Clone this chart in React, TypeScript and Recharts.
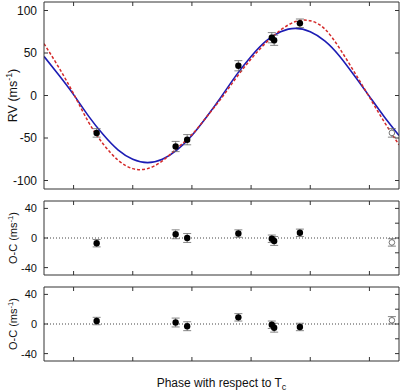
import React from 'react';
import { ComposedChart, Line, Scatter, XAxis, YAxis, ErrorBar, ReferenceLine } from 'recharts';

// Model curves (phase, RV in m/s)
const curvePhase = [-0.1, -0.05, 0, 0.05, 0.1, 0.15, 0.2, 0.25, 0.3, 0.35, 0.4, 0.45, 0.5, 0.55, 0.6, 0.65, 0.7, 0.75, 0.8, 0.85, 0.9, 0.95, 1.0, 1.05, 1.1];
const circularRV = [46, 24, 1, -24, -46, -64, -75, -79, -75, -64, -47, -25, -1, 24, 46, 64, 75, 79, 75, 64, 46, 23, -1, -25, -47];
const eccentricRV = [61, 33, 2, -31, -57, -76, -86, -86, -77, -62, -46, -25, -3, 21, 43, 62, 77, 87, 88, 78, 55, 27, -2, -31, -58];

// Observations
const obsPhase = [0.078, 0.345, 0.384, 0.557, 0.67, 0.678, 0.765];
const obsRV = [-44, -60, -52, 35, 68, 65, 85];
const obsErr = [5, 6, 6, 6, 6, 6, 5];
const ocCircular = [-7, 5, 0, 6, -1, -4, 7];
const ocEccentric = [4, 2, -3, 9, -1, -5, -4];
const ocErr = [5, 6, 6, 5, 5, 6, 5];

// Repeated (open) point
const repeatPhase = [1.076];
const repeatRV = [-44];
const repeatOcCircular = [-6];
const repeatOcEccentric = [5];
const repeatErr = [5];

// Ticks
const phaseTicks = [0, 0.2, 0.4, 0.6, 0.8, 1.0];
const rvTicks = [-100, -50, 0, 50, 100];
const ocTicks = [-40, -20, 0, 20, 40];

const curveRows = curvePhase.map((x, i) => ({ x, blue: circularRV[i], red: eccentricRV[i] }));
const mkRows = (xs: number[], ys: number[], es: number[]) => xs.map((x, i) => ({ x, y: ys[i], e: es[i] }));

const FONT = 'Liberation Sans, Arial, Helvetica, sans-serif';
const AX = '#333';

const filledDot = (p: any) => <circle cx={p.cx} cy={p.cy} r={3.2} fill="#000" />;
const openDot = (p: any) => <circle cx={p.cx} cy={p.cy} r={2.8} fill="#fff" stroke="#666" strokeWidth={0.9} />;

const yTitle = (main: string, size: number, bx: number) => (props: any) => {
  const vb = props.viewBox || { x: 0, y: 0, width: 44, height: 100 };
  const cx = vb.x + bx;
  const cy = vb.y + vb.height / 2;
  return (
    <text x={cx} y={cy} transform={`rotate(-90 ${cx} ${cy})`} textAnchor="middle" fontSize={size} fill="#111" fontFamily={FONT}>
      {main} (ms
      <tspan dy={-size * 0.4} fontSize={size * 0.7}>-1</tspan>
      <tspan dy={size * 0.4}>)</tspan>
    </text>
  );
};

const xTitle = (props: any) => {
  const vb = props.viewBox || { x: 44, y: 361, width: 355, height: 31 };
  const cx = vb.x + vb.width / 2;
  const cy = vb.y + 26;
  return (
    <text x={cx} y={cy} textAnchor="middle" fontSize={12} fill="#111" fontFamily={FONT}>
      Phase with respect to T
      <tspan dy={3} fontSize={9}>c</tspan>
    </text>
  );
};

const frameAxes = (
  yDomain: number[],
  yTicks: number[],
  fontSize: number,
  title: any,
  bottomHeight: number,
  bottomLabel?: any
) => [
  <XAxis
    key="xb"
    xAxisId={0}
    type="number"
    dataKey="x"
    domain={[-0.1, 1.1]}
    ticks={phaseTicks}
    allowDataOverflow
    tickSize={-4}
    tickFormatter={() => ''}
    height={bottomHeight}
    stroke={AX}
    label={bottomLabel ? { content: bottomLabel } : undefined}
  />,
  <XAxis
    key="xt"
    xAxisId="top"
    orientation="top"
    type="number"
    dataKey="x"
    domain={[-0.1, 1.1]}
    ticks={phaseTicks}
    allowDataOverflow
    tickSize={-4}
    tickFormatter={() => ''}
    height={1}
    stroke={AX}
  />,
  <YAxis
    key="yl"
    yAxisId={0}
    type="number"
    domain={yDomain}
    ticks={yTicks}
    allowDataOverflow
    tickSize={-4}
    tickMargin={11}
    width={44}
    stroke={AX}
    tick={{ fontSize, fill: '#111', fontFamily: FONT }}
    label={{ content: title }}
  />,
  <YAxis
    key="yr"
    yAxisId="right"
    orientation="right"
    type="number"
    domain={yDomain}
    ticks={yTicks}
    allowDataOverflow
    tickSize={-4}
    tickFormatter={() => ''}
    width={1}
    stroke={AX}
  />,
];

export default function App() {
  return (
    <div style={{ position: 'absolute', left: 0, top: 0, width: 400, height: 392, background: '#fff' }}>
      <div style={{ position: 'absolute', left: 0, top: 0 }}>
        <ComposedChart width={400} height={190} margin={{ top: 1, right: 0, bottom: 0, left: 0 }} data={curveRows}>
          {frameAxes([-110, 110], rvTicks, 12, yTitle('RV', 12.5, 17), 1)}
          <Line dataKey="blue" type="natural" stroke="#1c1cb4" strokeWidth={1.6} dot={false} activeDot={false} isAnimationActive={false} />
          <Line dataKey="red" type="natural" stroke="#d42a2a" strokeWidth={1.5} strokeDasharray="3 2" dot={false} activeDot={false} isAnimationActive={false} />
          <Scatter data={mkRows(obsPhase, obsRV, obsErr)} dataKey="y" shape={filledDot} isAnimationActive={false}>
            <ErrorBar dataKey="e" direction="y" width={4} stroke="#666" strokeWidth={0.8} />
          </Scatter>
          <Scatter data={mkRows(repeatPhase, repeatRV, repeatErr)} dataKey="y" shape={openDot} isAnimationActive={false}>
            <ErrorBar dataKey="e" direction="y" width={4} stroke="#666" strokeWidth={0.8} />
          </Scatter>
        </ComposedChart>
      </div>
      <div style={{ position: 'absolute', left: 0, top: 199 }}>
        <ComposedChart width={400} height={77} margin={{ top: 1, right: 0, bottom: 0, left: 0 }}>
          {frameAxes([-50, 50], ocTicks, 11, yTitle('O-C', 11, 17), 1)}
          <ReferenceLine y={0} stroke="#444" strokeDasharray="1 2" />
          <Scatter data={mkRows(obsPhase, ocCircular, ocErr)} dataKey="y" shape={filledDot} isAnimationActive={false}>
            <ErrorBar dataKey="e" direction="y" width={4} stroke="#666" strokeWidth={0.8} />
          </Scatter>
          <Scatter data={mkRows(repeatPhase, repeatOcCircular, repeatErr)} dataKey="y" shape={openDot} isAnimationActive={false}>
            <ErrorBar dataKey="e" direction="y" width={4} stroke="#666" strokeWidth={0.8} />
          </Scatter>
        </ComposedChart>
      </div>
      <div style={{ position: 'absolute', left: 0, top: 285 }}>
        <ComposedChart width={400} height={107} margin={{ top: 1, right: 0, bottom: 0, left: 0 }}>
          {frameAxes([-50, 50], ocTicks, 11, yTitle('O-C', 11, 17), 31, xTitle)}
          <ReferenceLine y={0} stroke="#444" strokeDasharray="1 2" />
          <Scatter data={mkRows(obsPhase, ocEccentric, ocErr)} dataKey="y" shape={filledDot} isAnimationActive={false}>
            <ErrorBar dataKey="e" direction="y" width={4} stroke="#666" strokeWidth={0.8} />
          </Scatter>
          <Scatter data={mkRows(repeatPhase, repeatOcEccentric, repeatErr)} dataKey="y" shape={openDot} isAnimationActive={false}>
            <ErrorBar dataKey="e" direction="y" width={4} stroke="#666" strokeWidth={0.8} />
          </Scatter>
        </ComposedChart>
      </div>
    </div>
  );
}
